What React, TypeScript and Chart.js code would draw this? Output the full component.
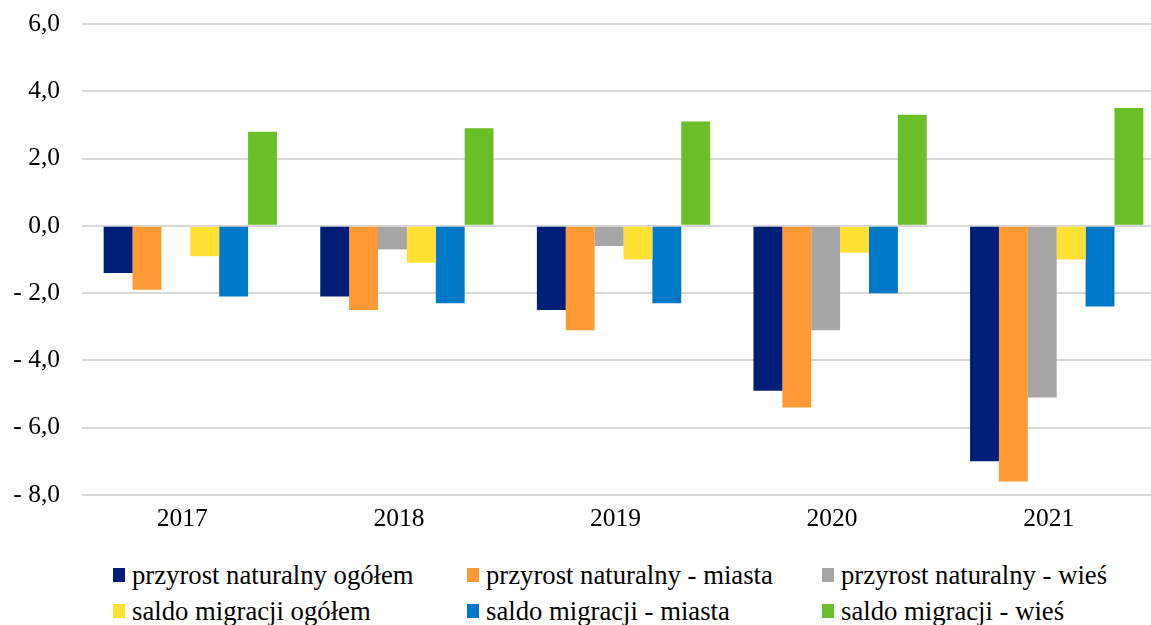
import React, { useEffect, useRef } from "react";
import { Chart, registerables } from "chart.js";

Chart.register(...registerables);

const categories = ["2017", "2018", "2019", "2020", "2021"];
const seriesNames = [
  "przyrost naturalny ogółem",
  "przyrost naturalny - miasta",
  "przyrost naturalny - wieś",
  "saldo migracji ogółem",
  "saldo migracji - miasta",
  "saldo migracji - wieś",
];
const przyrostOgolem = [-1.4, -2.1, -2.5, -4.9, -7.0];
const przyrostMiasta = [-1.9, -2.5, -3.1, -5.4, -7.6];
const przyrostWies = [0.0, -0.7, -0.6, -3.1, -5.1];
const saldoOgolem = [-0.9, -1.1, -1.0, -0.8, -1.0];
const saldoMiasta = [-2.1, -2.3, -2.3, -2.0, -2.4];
const saldoWies = [2.8, 2.9, 3.1, 3.3, 3.5];
const seriesColors = ["#001E78", "#FF9933", "#A6A6A6", "#FFE133", "#0078C8", "#6ABE28"];
const yTicks = [-8, -6, -4, -2, 0, 2, 4, 6];

const FONT = "'Liberation Serif', 'Times New Roman', serif";

function fmt(v: number): string {
  const s = Math.abs(v).toFixed(1).replace(".", ",");
  return v < 0 ? "- " + s : s;
}

export default function App() {
  const ref = useRef<HTMLCanvasElement | null>(null);
  useEffect(() => {
    if (!ref.current) return;
    const allData = [przyrostOgolem, przyrostMiasta, przyrostWies, saldoOgolem, saldoMiasta, saldoWies];
    const chart = new Chart(ref.current, {
      type: "bar",
      data: {
        labels: categories,
        datasets: allData.map((d, i) => ({
          label: seriesNames[i],
          data: d,
          backgroundColor: seriesColors[i],
          borderWidth: 0,
          categoryPercentage: 0.8,
          barPercentage: 1.0,
        })),
      },
      options: {
        animation: false,
        responsive: false,
        devicePixelRatio: 1,
        layout: { padding: { top: 24, bottom: 0, left: 0, right: 0 } },
        plugins: { legend: { display: false }, tooltip: { enabled: false } },
        scales: {
          x: {
            grid: { display: false, drawTicks: false },
            border: { display: false },
            ticks: { color: "#000", font: { family: FONT, size: 25.5 }, padding: 9, labelOffset: -8 },
            afterFit: (s: any) => { s.height = 40; s.paddingLeft = 0; s.paddingRight = 0; },
          },
          y: {
            min: -8,
            max: 6,
            afterBuildTicks: (s: any) => { s.ticks = yTicks.map((v) => ({ value: v })); },
            grid: { color: "#D9D9D9", lineWidth: 2, drawTicks: false },
            border: { display: false },
            ticks: {
              color: "#000",
              font: { family: FONT, size: 25.5 },
              padding: 22,
              callback: (v: any) => fmt(Number(v)),
            },
            afterFit: (s: any) => { s.width = 82; s.paddingTop = 0; s.paddingBottom = 0; },
          },
        },
      },
    });
    return () => chart.destroy();
  }, []);

  const cols = [113, 467, 822];
  const rows = [560, 596];

  return (
    <div style={{ position: "fixed", left: 0, top: 0, width: 1151, height: 625, overflow: "hidden", background: "#fff" }}>
      <canvas ref={ref} width={1165} height={535} style={{ position: "absolute", left: 0, top: 0 }} />
      {seriesNames.map((name, i) => (
        <div
          key={name}
          style={{
            position: "absolute",
            left: cols[i % 3],
            top: rows[Math.floor(i / 3)],
            height: 30,
            display: "flex",
            alignItems: "center",
            fontFamily: FONT,
            fontSize: 26.7,
            color: "#000",
            whiteSpace: "nowrap",
          }}
        >
          <span style={{ display: "inline-block", width: 12, height: 14, background: seriesColors[i], marginRight: 7 }} />
          <span>{name}</span>
        </div>
      ))}
    </div>
  );
}
